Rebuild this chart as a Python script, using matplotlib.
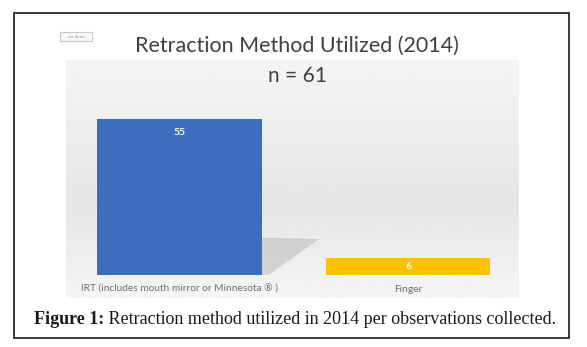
import numpy as np
import matplotlib
matplotlib.use("Agg")
import matplotlib.pyplot as plt
from matplotlib.patches import Rectangle, Polygon

categories = ["IRT (includes mouth mirror or Minnesota \u00ae )", "Finger"]
counts = [55, 6]
bar_colors = ["#3f6dbd", "#ffc000"]
title = "Retraction Method Utilized (2014)"
subtitle = "n = 61"
caption_bold = "Figure 1:"
caption_text = " Retraction method utilized in 2014 per observations collected."

W, H = 587, 347
fig = plt.figure(figsize=(W / 100, H / 100), dpi=100)
fig.patch.set_facecolor("white")

def fx(px):
    return px / W

def fy(py):
    return 1 - py / H

# outer frame
fig.add_artist(Rectangle((fx(14), fy(338)), fx(569) - fx(14), fy(13) - fy(338),
                         transform=fig.transFigure, fill=False, lw=1.2, ec="#1a1a1a"))

# gray gradient panel behind the chart
bg = fig.add_axes([fx(66), fy(298), fx(519) - fx(66), fy(60) - fy(298)])
grad = np.concatenate([np.linspace(0.96, 0.90, 60), np.linspace(0.90, 0.96, 40)])
bg.imshow(grad[:, None], aspect="auto", cmap="gray", vmin=0, vmax=1,
          extent=[0, 1, 0, 1])
bg.axis("off")

# small button in the corner
fig.add_artist(Rectangle((fx(60), fy(41)), fx(32), fy(32) - fy(41),
                         transform=fig.transFigure, fc="#f8f8f8", ec="#c8c8c8", lw=0.8))
fig.text(fx(76), fy(36.5), "ort Area", fontsize=3, color="#9a9a9a",
         ha="center", va="center")

fig.text(fx(297), fy(46), title, fontsize=15.5, family="Lato", color="#404040",
         ha="center", va="center")
fig.text(fx(297), fy(76), subtitle, fontsize=15, family="Lato", color="#404040",
         ha="center", va="center")

ax = fig.add_axes([fx(66), fy(275), fx(519) - fx(66), fy(100) - fy(275)])
ax.patch.set_alpha(0)
x = np.arange(len(categories))
ax.set_xlim(-0.497, 1.485)
ax.set_ylim(0, 61.7)

# soft shadow to the right of the first bar
w = 0.72
edge = x[0] + w / 2
sh = Polygon([(edge, counts[0] * 0.24), (edge + 0.25, counts[0] * 0.23),
              (edge + 0.03, 0), (edge, 0)],
             closed=True, fc="#a8a8a8", ec="none", alpha=0.4)
ax.add_patch(sh)

bars = ax.bar(x, counts, width=w, color=bar_colors, edgecolor="none")
for b, v in zip(bars, counts):
    if v > 20:
        yy = v - 4.8
    else:
        yy = v / 2
    ax.text(b.get_x() + b.get_width() / 2, yy, str(v), ha="center", va="center",
            color="white", fontsize=7.5, family="Lato", weight="bold")

ax.set_xticks(x)
ax.set_xticklabels(categories, fontsize=7.3, color="#707070", family="Lato")
ax.tick_params(axis="x", length=0, pad=7)
ax.set_yticks([])
for s in ax.spines.values():
    s.set_visible(False)

fig.text(fx(34), fy(319), caption_bold, fontsize=13, family="Liberation Serif",
         weight="bold", color="#1a1a1a", ha="left", va="center")
r = fig.canvas.get_renderer()
bb = fig.texts[-1].get_window_extent(renderer=r)
fig.text(bb.x1 / W, fy(319), caption_text, fontsize=13, family="Liberation Serif",
         color="#1a1a1a", ha="left", va="center")

fig.savefig("out.png", dpi=100)
